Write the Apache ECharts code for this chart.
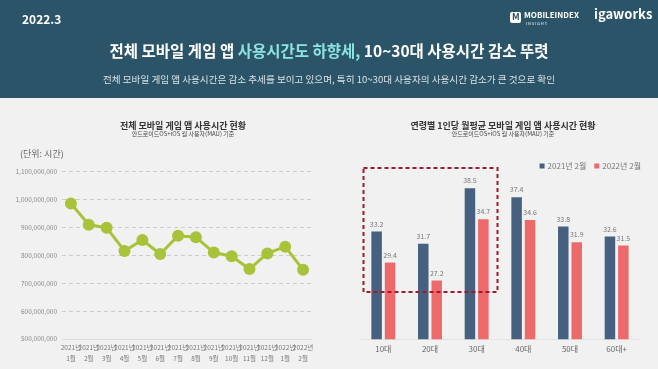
<!DOCTYPE html>
<html><head><meta charset="utf-8">
<script src="https://cdn.jsdelivr.net/npm/echarts@6/dist/echarts.min.js"></script>
<style>html,body{margin:0;padding:0;background:#f1f1f1}#c{width:658px;height:369px}</style>
</head><body><div id="c"></div>
<script>
const months = ['2021년\n1월','2021년\n2월','2021년\n3월','2021년\n4월','2021년\n5월','2021년\n6월','2021년\n7월','2021년\n8월','2021년\n9월','2021년\n10월','2021년\n11월','2021년\n12월','2022년\n1월','2022년\n2월'];
const usageHours = [986000000, 910000000, 899000000, 816000000, 855000000, 805000000, 870000000, 865000000, 810000000, 797000000, 751000000, 807000000, 831000000, 748000000];
const ageGroups = ['10대','20대','30대','40대','50대','60대+'];
const feb2021 = [33.2, 31.7, 38.5, 37.4, 33.8, 32.6];
const feb2022 = [29.4, 27.2, 34.7, 34.6, 31.9, 31.5];
const leftTicks = [500000000, 1100000000, 100000000];

const F = '"Noto Sans CJK KR", "Noto Sans", sans-serif';
const chart = echarts.init(document.getElementById('c'));
const fmt = v => v.toLocaleString('en-US');

chart.setOption({
  backgroundColor: '#f1f1f1',
  textStyle: { fontFamily: F },
  animation: false,
  graphic: [
    { type: 'rect', shape: { x: 0, y: 0, width: 658, height: 98 }, style: { fill: '#2b5468' }, z: -1 },
    { type: 'text', left: 22, top: 13, style: { text: '2022.3', fill: '#ffffff', font: 'bold 12px ' + F } },
    { type: 'rect', shape: { x: 510, y: 12, width: 11, height: 11, r: 2 }, style: { fill: '#ffffff' } },
    { type: 'text', left: 512, top: 12, style: { text: 'M', fill: '#2b5468', font: 'bold 9px ' + F } },
    { type: 'text', left: 524, top: 11, style: { text: 'MOBILEINDEX', fill: '#ffffff', font: 'bold 8px ' + F } },
    { type: 'text', left: 526, top: 21, style: { text: 'I N S I G H T', fill: '#ffffff', font: '4px ' + F } },
    { type: 'text', left: 594, top: 8, style: { text: 'igaworks', fill: '#ffffff', font: 'bold 13px ' + F } },
    { type: 'text', left: 'center', top: 43, style: {
        rich: {
          w: { fill: '#ffffff', font: 'bold 15.5px ' + F },
          h: { fill: '#8ce3e0', font: 'bold 15.5px ' + F }
        },
        text: '{w|전체 모바일 게임 앱 }{h|사용시간도 하향세,}{w| 10~30대 사용시간 감소 뚜렷}'
    } },
    { type: 'text', left: 'center', top: 75, style: { text: '전체 모바일 게임 앱 사용시간은 감소 추세를 보이고 있으며, 특히 10~30대 사용자의 사용시간 감소가 큰 것으로 확인', fill: '#d8e2e6', font: '9.6px ' + F } },
    { type: 'text', left: 20, top: 149, style: { text: '(단위: 시간)', fill: '#666666', font: '9px ' + F } },
    { type: 'rect', shape: { x: 363.5, y: 168, width: 134, height: 124 }, style: { fill: 'none', stroke: '#a3182c', lineWidth: 2, lineDash: [4, 3] }, z: 10 }
  ],
  title: [
    { text: '전체 모바일 게임 앱 사용시간 현황', subtext: '안드로이드OS+iOS 월 사용자(MAU) 기준', left: 178, textAlign: 'center', top: 116, itemGap: 1,
      textStyle: { fontSize: 9, fontWeight: 'bold', color: '#333', fontFamily: F }, subtextStyle: { fontSize: 6, color: '#444', fontFamily: F } },
    { text: '연령별 1인당 월평균 모바일 게임 앱 사용시간 현황', subtext: '안드로이드OS+iOS 월 사용자(MAU) 기준', left: 498, textAlign: 'center', top: 116, itemGap: 1,
      textStyle: { fontSize: 9, fontWeight: 'bold', color: '#333', fontFamily: F }, subtextStyle: { fontSize: 6, color: '#444', fontFamily: F } }
  ],
  legend: {
    right: 12, top: 157, itemWidth: 5, itemHeight: 5, itemGap: 8, icon: 'rect',
    textStyle: { fontSize: 8, color: '#777', fontFamily: F, padding: [0, 0, 0, -2] },
    data: ['2021년 2월', '2022년 2월']
  },
  grid: [
    { left: 62, right: 346, top: 171.7, bottom: 30 },
    { left: 360, right: 18, top: 176, bottom: 29.7 }
  ],
  xAxis: [
    { type: 'category', gridIndex: 0, data: months, boundaryGap: true,
      axisLine: { lineStyle: { color: '#dddddd' } }, axisTick: { show: false },
      axisLabel: { fontSize: 6.5, color: '#777', lineHeight: 11, margin: 3, interval: 0 } },
    { type: 'category', gridIndex: 1, data: ageGroups,
      axisLine: { lineStyle: { color: '#e2e2e2' } }, axisTick: { show: false },
      axisLabel: { fontSize: 8, color: '#666', margin: 6 } }
  ],
  yAxis: [
    { type: 'value', gridIndex: 0, min: leftTicks[0], max: leftTicks[1], interval: leftTicks[2],
      axisLine: { show: false }, axisTick: { show: false },
      axisLabel: { fontSize: 6.5, color: '#888', margin: 5, formatter: fmt },
      splitLine: { lineStyle: { color: '#cccccc', type: [4, 3] } } },
    { type: 'value', gridIndex: 1, min: 20, max: 40, show: false, splitLine: { show: false } }
  ],
  series: [
    { type: 'line', xAxisIndex: 0, yAxisIndex: 0, data: usageHours, symbol: 'circle', symbolSize: 12,
      lineStyle: { color: '#a8c23a', width: 3 }, itemStyle: { color: '#a8c23a' } },
    { name: '2021년 2월', type: 'bar', xAxisIndex: 1, yAxisIndex: 1, data: feb2021, barWidth: 10.5, barGap: '28%',
      itemStyle: { color: '#46607f' },
      label: { show: true, position: 'top', fontSize: 7, color: '#777', distance: 4 } },
    { name: '2022년 2월', type: 'bar', xAxisIndex: 1, yAxisIndex: 1, data: feb2022, barWidth: 10.5,
      itemStyle: { color: '#ee6a6a' },
      label: { show: true, position: 'top', fontSize: 7, color: '#777', distance: 4 } }
  ]
});
</script></body></html>
